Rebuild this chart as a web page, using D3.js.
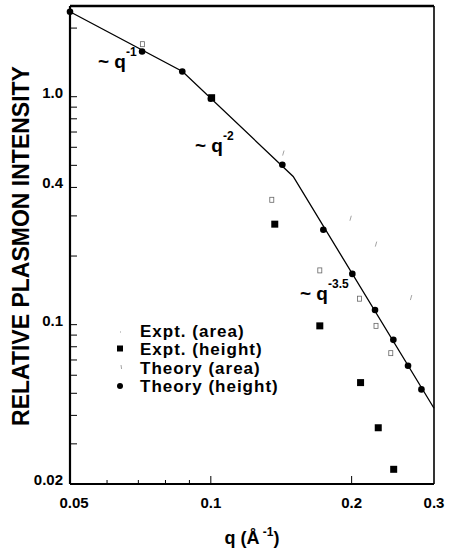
<!DOCTYPE html>
<html>
<head>
<meta charset="utf-8">
<script src="https://cdn.jsdelivr.net/npm/d3@7"></script>
<style>
  html, body { margin: 0; padding: 0; background: #fff; }
  text { font-family: "Liberation Sans", Arial, Helvetica, sans-serif; font-weight: bold; fill: #000; }
</style>
</head>
<body>
<svg id="chart" width="449" height="550"></svg>
<script>
// ---- Data ----
const theoryLineQ = [0.05, 0.087, 0.15, 0.3];
const theoryLineI = [2.36, 1.29, 0.447, 0.043];

const theoryHeightQ = [0.05, 0.0713, 0.0869, 0.1, 0.1422, 0.174, 0.2007, 0.2244, 0.2456, 0.264, 0.282];
const theoryHeightI = [2.36, 1.58, 1.29, 0.98, 0.503, 0.261, 0.167, 0.116, 0.0858, 0.066, 0.052];

const exptHeightQ = [0.1004, 0.137, 0.171, 0.209, 0.228, 0.246];
const exptHeightI = [0.99, 0.276, 0.0988, 0.0557, 0.0353, 0.0232];

const exptAreaQ = [0.0714, 0.135, 0.171, 0.208, 0.2255, 0.2425];
const exptAreaI = [1.70, 0.353, 0.173, 0.130, 0.0988, 0.075];

const theoryAreaQ = [0.1429, 0.199, 0.2255, 0.268];
const theoryAreaI = [0.566, 0.293, 0.2256, 0.1315];

const xTickLabels = [0.05, 0.1, 0.2, 0.3];
const xMajorTicks = [0.1, 0.2];
const xMinorTicks = [0.06, 0.07, 0.08, 0.09];
const yTickLabels = [0.02, 0.1, 0.4, 1.0];
const yTickText = ["0.02", "0.1", "0.4", "1.0"];
const yMinorTicks = [0.03, 0.04, 0.05, 0.06, 0.07, 0.08, 0.09, 0.2, 0.3, 0.5, 0.6, 0.7, 0.8, 0.9, 2.0];

const legendLabels = ["Expt. (area)", "Expt. (height)", "Theory (area)", "Theory (height)"];

// ---- Layout ----
const L = 70, R = 434, T = 6, B = 484;
const x = d3.scaleLog().domain([0.05, 0.3]).range([L, R]);
const y = d3.scaleLog().domain([0.02, 2.5]).range([B, T]);

const svg = d3.select("#chart");

// Theory line
const line = d3.line().x(d => x(d[0])).y(d => y(d[1]));
svg.append("path")
  .datum(theoryLineQ.map((q, i) => [q, theoryLineI[i]]))
  .attr("d", line)
  .attr("fill", "none").attr("stroke", "#000").attr("stroke-width", 1.3);

// Frame
svg.append("line").attr("x1", L).attr("x2", R).attr("y1", T).attr("y2", T).attr("stroke", "#000").attr("stroke-width", 2.5);
svg.append("line").attr("x1", L).attr("x2", R).attr("y1", B).attr("y2", B).attr("stroke", "#000").attr("stroke-width", 2.2);
svg.append("line").attr("x1", L).attr("x2", L).attr("y1", T).attr("y2", B).attr("stroke", "#000").attr("stroke-width", 2.2);
svg.append("line").attr("x1", R).attr("x2", R).attr("y1", T).attr("y2", B).attr("stroke", "#000").attr("stroke-width", 1.6);

// Y ticks (inward)
svg.selectAll(".ytick").data(yTickLabels.concat(yMinorTicks)).enter().append("line")
  .attr("x1", L).attr("x2", L + 7)
  .attr("y1", d => y(d)).attr("y2", d => y(d))
  .attr("stroke", "#000").attr("stroke-width", 1);
svg.selectAll(".ylab").data(yTickLabels).enter().append("text")
  .attr("x", 63).attr("y", d => y(d) + 1)
  .attr("text-anchor", "end").attr("font-size", 15)
  .text((d, i) => yTickText[i]);

// X ticks (inward)
svg.selectAll(".xmaj").data(xMajorTicks).enter().append("line")
  .attr("x1", d => x(d)).attr("x2", d => x(d))
  .attr("y1", B).attr("y2", B - 8)
  .attr("stroke", "#000").attr("stroke-width", 1);
svg.selectAll(".xmin").data(xMinorTicks).enter().append("line")
  .attr("x1", d => x(d)).attr("x2", d => x(d))
  .attr("y1", B).attr("y2", B - 4)
  .attr("stroke", "#000").attr("stroke-width", 1);
svg.selectAll(".xlab").data(xTickLabels).enter().append("text")
  .attr("x", d => x(d) + (d === 0.05 ? 4 : 0)).attr("y", 508)
  .attr("text-anchor", "middle").attr("font-size", 15)
  .text(d => String(d));

// Axis titles
const xt = svg.append("text").attr("x", 252).attr("y", 544).attr("text-anchor", "middle").attr("font-size", 18);
xt.append("tspan").text("q (Å");
xt.append("tspan").attr("dy", -8).attr("font-size", 12).text(" -1");
xt.append("tspan").attr("dy", 8).text(")");

svg.append("text")
  .attr("transform", "translate(29,246) rotate(-90)")
  .attr("text-anchor", "middle").attr("font-size", 23)
  .text("RELATIVE PLASMON INTENSITY");

// Markers
function drawSquares(qs, is, s) {
  svg.selectAll(null).data(qs.map((q, i) => [q, is[i]])).enter().append("rect")
    .attr("x", d => x(d[0]) - s / 2).attr("y", d => y(d[1]) - s / 2)
    .attr("width", s).attr("height", s).attr("fill", "#000");
}
function drawDots(qs, is, r) {
  svg.selectAll(null).data(qs.map((q, i) => [q, is[i]])).enter().append("circle")
    .attr("cx", d => x(d[0])).attr("cy", d => y(d[1])).attr("r", r).attr("fill", "#000");
}
function drawOpenRects(qs, is) {
  svg.selectAll(null).data(qs.map((q, i) => [q, is[i]])).enter().append("rect")
    .attr("x", d => x(d[0]) - 2).attr("y", d => y(d[1]) - 2.5)
    .attr("width", 4).attr("height", 5)
    .attr("fill", "none").attr("stroke", "#666").attr("stroke-width", 0.8);
}
function drawFaint(qs, is) {
  svg.selectAll(null).data(qs.map((q, i) => [q, is[i]])).enter().append("line")
    .attr("x1", d => x(d[0]) - 0.7).attr("x2", d => x(d[0]) + 0.7)
    .attr("y1", d => y(d[1]) + 2.5).attr("y2", d => y(d[1]) - 2.5)
    .attr("stroke", "#999").attr("stroke-width", 0.9);
}

drawOpenRects(exptAreaQ, exptAreaI);
drawFaint(theoryAreaQ, theoryAreaI);
drawDots(theoryHeightQ, theoryHeightI, 3.3);
drawSquares(exptHeightQ, exptHeightI, 7);

// Slope annotations
function slopeLabel(xp, yp, exp) {
  const t = svg.append("text").attr("x", xp).attr("y", yp).attr("font-size", 19);
  t.append("tspan").text("~ q");
  t.append("tspan").attr("dy", -12).attr("font-size", 12).text(exp);
}
slopeLabel(98, 68, "-1");
slopeLabel(195, 152, "-2");
slopeLabel(300, 300, "-3.5");

// Legend
const legY = [337, 355, 374, 392];
legendLabels.forEach((lab, i) => {
  svg.append("text").attr("x", 140).attr("y", legY[i])
    .attr("font-size", 17).attr("letter-spacing", 1).text(lab);
});
const lx = 120;
svg.append("line").attr("x1", lx).attr("x2", lx + 1).attr("y1", legY[0] - 5).attr("y2", legY[0] - 5)
  .attr("stroke", "#999").attr("stroke-width", 1);
svg.append("rect").attr("x", lx - 3).attr("y", legY[1] - 9.5).attr("width", 6).attr("height", 6).attr("fill", "#000");
svg.append("line").attr("x1", lx + 1).attr("x2", lx + 1.6).attr("y1", legY[2] - 9).attr("y2", legY[2] - 5)
  .attr("stroke", "#999").attr("stroke-width", 0.9);
svg.append("circle").attr("cx", lx).attr("cy", legY[3] - 6).attr("r", 3).attr("fill", "#000");
</script>
</body>
</html>
